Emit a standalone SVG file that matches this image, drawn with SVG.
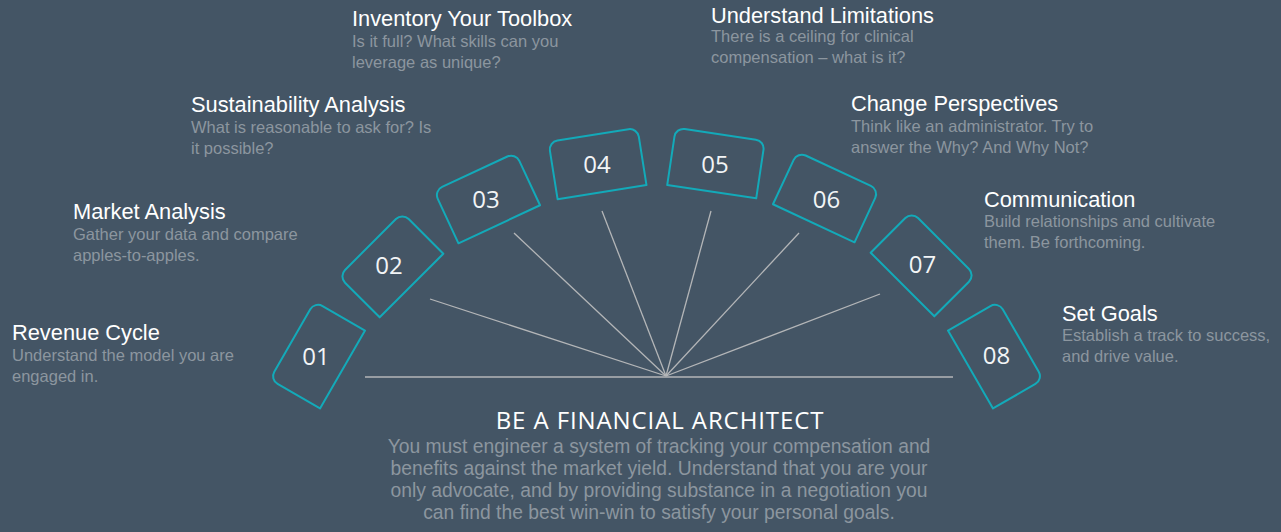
<svg xmlns="http://www.w3.org/2000/svg" width="1281" height="532" viewBox="0 0 1281 532">
  <style>
    .bg { fill: #445565; }
    .tab { fill: none; stroke: #13aab9; stroke-width: 2; stroke-linejoin: round; }
    .num { font-family: "Open Sans", "Liberation Sans", sans-serif; font-size: 24px; fill: #f2f4f6; text-anchor: middle; }
    .ray { stroke: #b4b6b8; stroke-width: 1.3; fill: none; }
    .head { font-family: "Liberation Sans", Arial, sans-serif; font-size: 21.8px; fill: #ffffff; }
    .desc { font-family: "Liberation Sans", Arial, sans-serif; font-size: 16.5px; fill: #8c969f; }
    .title { font-family: "Open Sans", "Liberation Sans", sans-serif; font-size: 24px; letter-spacing: 0.9px; fill: #ffffff; text-anchor: middle; }
    .body { font-family: "Liberation Sans", Arial, sans-serif; font-size: 19.3px; fill: #8c969f; text-anchor: middle; }
  </style>
  <defs>
    <!-- tab shape: 90x58 card, rounded on the outer (top) corners -->
    <path id="tab-shape" class="tab" d="M-45,29 V-20 A9,9 0 0 1 -36,-29 H36 A9,9 0 0 1 45,-20 V29 Z"/>
  </defs>

  <rect class="bg" x="0" y="0" width="1281" height="532"/>

  <!-- fan of rays from the base point -->
  <g id="connectors">
    <line class="ray" x1="365" y1="377" x2="953" y2="377"/>
    <line class="ray" x1="666" y1="376" x2="430" y2="299"/>
    <line class="ray" x1="666" y1="376" x2="514" y2="233"/>
    <line class="ray" x1="666" y1="376" x2="602" y2="211"/>
    <line class="ray" x1="666" y1="376" x2="711" y2="211"/>
    <line class="ray" x1="666" y1="376" x2="799" y2="233"/>
    <line class="ray" x1="666" y1="376" x2="880" y2="294"/>
  </g>

  <!-- numbered tabs around the arc -->
  <g id="step-01">
    <use href="#tab-shape" transform="translate(317.4,355) rotate(-60)"/>
    <text class="num" x="316" y="365">01</text>
  </g>
  <g id="step-02">
    <use href="#tab-shape" transform="translate(391,265) rotate(-45)"/>
    <text class="num" x="389" y="274">02</text>
  </g>
  <g id="step-03">
    <use href="#tab-shape" transform="translate(487,198) rotate(-25)"/>
    <text class="num" x="486" y="208">03</text>
  </g>
  <g id="step-04">
    <use href="#tab-shape" transform="translate(597.5,163.5) rotate(-9)"/>
    <text class="num" x="597" y="173">04</text>
  </g>
  <g id="step-05">
    <use href="#tab-shape" transform="translate(716,163) rotate(8.5)"/>
    <text class="num" x="715" y="173">05</text>
  </g>
  <g id="step-06">
    <use href="#tab-shape" transform="translate(826,197) rotate(25)"/>
    <text class="num" x="826.5" y="208">06</text>
  </g>
  <g id="step-07">
    <use href="#tab-shape" transform="translate(923,264) rotate(45)"/>
    <text class="num" x="922.5" y="273">07</text>
  </g>
  <g id="step-08">
    <use href="#tab-shape" transform="translate(995.6,355) rotate(60)"/>
    <text class="num" x="996.5" y="364">08</text>
  </g>

  <!-- labels -->
  <g id="label-01">
    <text class="head" x="12" y="340">Revenue Cycle</text>
    <text class="desc" x="12" y="361">Understand the model you are</text>
    <text class="desc" x="12" y="382">engaged in.</text>
  </g>
  <g id="label-02">
    <text class="head" x="73" y="219">Market Analysis</text>
    <text class="desc" x="73" y="240">Gather your data and compare</text>
    <text class="desc" x="73" y="261">apples-to-apples.</text>
  </g>
  <g id="label-03">
    <text class="head" x="191" y="112">Sustainability Analysis</text>
    <text class="desc" x="191" y="133">What is reasonable to ask for? Is</text>
    <text class="desc" x="191" y="154">it possible?</text>
  </g>
  <g id="label-04">
    <text class="head" x="352" y="26">Inventory Your Toolbox</text>
    <text class="desc" x="352" y="47">Is it full? What skills can you</text>
    <text class="desc" x="352" y="68">leverage as unique?</text>
  </g>
  <g id="label-05">
    <text class="head" x="711" y="23">Understand Limitations</text>
    <text class="desc" x="711" y="42">There is a ceiling for clinical</text>
    <text class="desc" x="711" y="63">compensation – what is it?</text>
  </g>
  <g id="label-06">
    <text class="head" x="851" y="111">Change Perspectives</text>
    <text class="desc" x="851" y="132">Think like an administrator. Try to</text>
    <text class="desc" x="851" y="153">answer the Why? And Why Not?</text>
  </g>
  <g id="label-07">
    <text class="head" x="984" y="207">Communication</text>
    <text class="desc" x="984" y="227">Build relationships and cultivate</text>
    <text class="desc" x="984" y="248">them. Be forthcoming.</text>
  </g>
  <g id="label-08">
    <text class="head" x="1062" y="321">Set Goals</text>
    <text class="desc" x="1062" y="341">Establish a track to success,</text>
    <text class="desc" x="1062" y="362">and drive value.</text>
  </g>

  <!-- summary block -->
  <g id="summary">
    <text class="title" x="660" y="429">BE A FINANCIAL ARCHITECT</text>
    <text class="body" x="659" y="453">You must engineer a system of tracking your compensation and</text>
    <text class="body" x="659" y="475">benefits against the market yield. Understand that you are your</text>
    <text class="body" x="659" y="497">only advocate, and by providing substance in a negotiation you</text>
    <text class="body" x="659" y="519">can find the best win-win to satisfy your personal goals.</text>
  </g>
</svg>
